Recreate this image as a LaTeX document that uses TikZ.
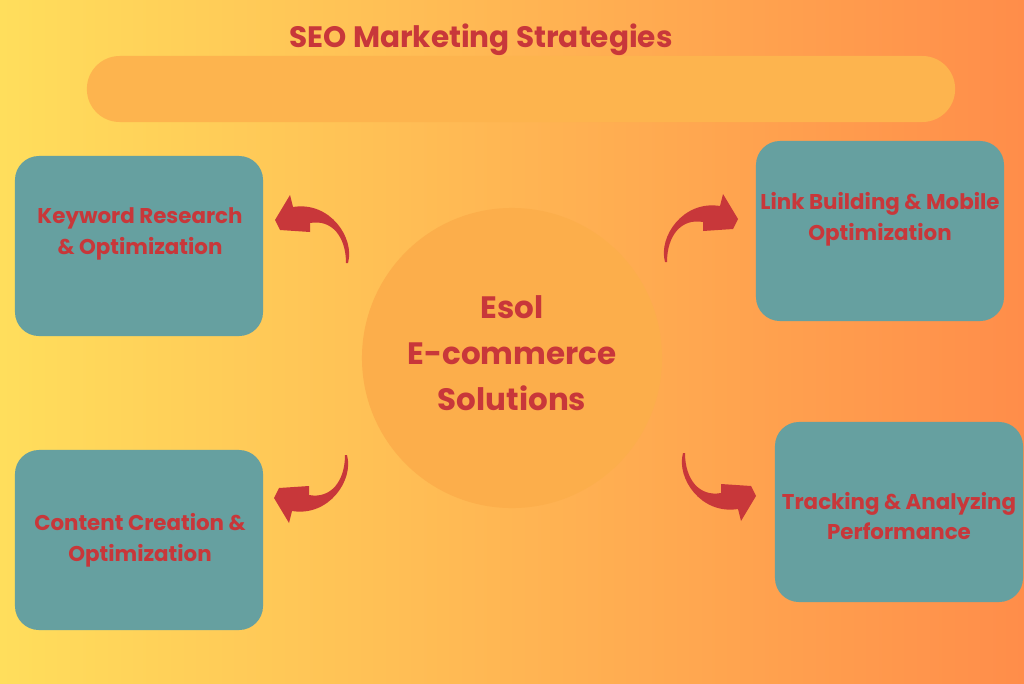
\documentclass[tikz,border=0pt]{standalone}
\usepackage{fontspec}
\setmainfont{Poppins}
\definecolor{bgleft}{HTML}{FFDE5C}
\definecolor{bgright}{HTML}{FF8D4A}
\definecolor{bandorange}{HTML}{FDB44E}
\definecolor{hubfill}{HTML}{FCAE4B}
\definecolor{boxteal}{HTML}{66A0A0}
\definecolor{seored}{HTML}{C8373A}

\begin{document}
\begin{tikzpicture}[x=0.025cm, y=-0.025cm,
  box/.style={fill=boxteal, rounded corners=0.6cm, minimum width=6.2cm, minimum height=4.5cm},
  boxtext/.style={seored, font=\bfseries\fontsize{15.2}{22}\selectfont, align=center},
  curlyarrow/.pic={
    \fill[seored] (0,0) .. controls (7,-25) and (-18,-62) .. (-55,-56) -- (-58,-68)
      -- (-73,-43) -- (-68,-33) -- (-38,-31) -- (-38,-40)
      .. controls (-16,-44) and (-2,-26) .. (-2,0) -- cycle;
  }]

% background
\fill[left color=bgleft, right color=bgright] (0,0) rectangle (1024,683);
\useasboundingbox (0,0) rectangle (1024,683);

% heading and band
\node[fill=bandorange, rounded corners=0.82cm, minimum width=21.7cm, minimum height=1.65cm] (band) at (521,89) {};
\node[seored, font=\bfseries\fontsize{21}{24}\selectfont] (title) at (481,40) {SEO Marketing Strategies};

% centre
\node[circle, fill=hubfill, minimum size=7.5cm] (hub) at (512,358) {};
\node[seored, font=\bfseries\fontsize{22}{32.7}\selectfont, align=center] (hubtext) at (512,353) {Esol\\E-commerce\\Solutions};

% boxes
\node[box] (kr) at (139,246) {};
\node[boxtext] (krtext) at (140,234) {Keyword Research\\\& Optimization};

\node[box] (lb) at (880,231) {};
\node[boxtext] (lbtext) at (880,219) {Link Building \& Mobile\\Optimization};

\node[box] (cc) at (139,540) {};
\node[boxtext] (cctext) at (140,540) {Content Creation \&\\Optimization};

\node[box] (ta) at (899,512) {};
\node[boxtext] (tatext) at (899,516) {Tracking \& Analyzing\\Performance};

% arrows
\pic at (348,263) {curlyarrow};
\pic[xscale=-1] at (665,262) {curlyarrow};
\pic[yscale=-1] at (347,455) {curlyarrow};
\pic[xscale=-1, yscale=-1] at (683,453) {curlyarrow};

\end{tikzpicture}
\end{document}
